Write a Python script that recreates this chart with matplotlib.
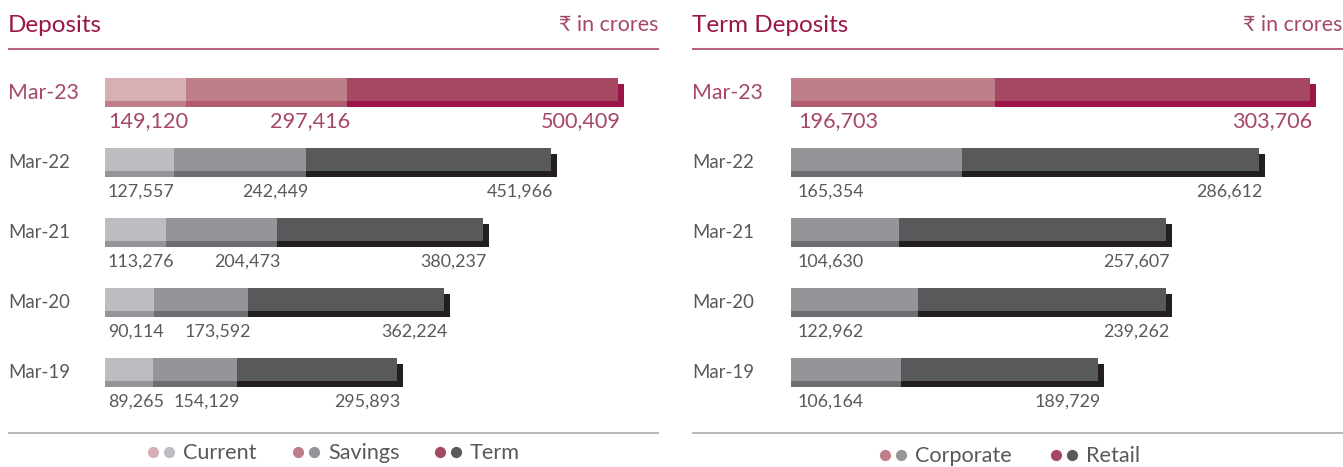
import matplotlib
matplotlib.use("Agg")
import matplotlib.pyplot as plt

# Figure geometry (pixels at dpi=100)
W, H = 1343, 467
ROW0_PX, ROW_STEP = 92.5, 70.0

# Deposits (₹ in crores)
years = ["Mar-23", "Mar-22", "Mar-21", "Mar-20", "Mar-19"]
current = [149120, 127557, 113276, 90114, 89265]
savings = [297416, 242449, 204473, 173592, 154129]
term = [500409, 451966, 380237, 362224, 295893]

# Term deposits split
corporate = [196703, 165354, 104630, 122962, 106164]
retail = [303706, 286612, 257607, 239262, 189729]

PINK = ["#d8afb4", "#bf7f8a", "#a54862"]
PINK_SHADE = ["#bf7f8a", "#b05a70", "#9b1548"]
GREY = ["#bcbdc0", "#939598", "#58595b"]
GREY_SHADE = ["#939598", "#6d6e71", "#231f20"]

MAROON = "#9b1548"
ROSE = "#a54862"
TEXT = "#58595b"
FONT = ["Lato", "DejaVu Sans"]

plt.rcParams["font.family"] = FONT

fig = plt.figure(figsize=(W / 100, H / 100), dpi=100)

# Overlay in pixel units for titles, rules and legends
deco = fig.add_axes([0, 0, 1, 1])
deco.set_xlim(0, W)
deco.set_ylim(H, 0)
deco.axis("off")


def bar_axes(x0_px, x1_px, units_per_px):
    ax = fig.add_axes([x0_px / W, 0, (x1_px - x0_px) / W, 1])
    ax.set_xlim(0, (x1_px - x0_px) * units_per_px)
    ax.set_ylim((H - ROW0_PX) / ROW_STEP, -ROW0_PX / ROW_STEP)
    ax.axis("off")
    return ax


def draw_panel(ax, series, color_idx, units_per_px, first_pad_px):
    main_h = 23 / ROW_STEP
    drop = 3 / ROW_STEP
    ext = 6 * units_per_px
    for i, year in enumerate(years):
        latest = i == 0
        base_cols = PINK if latest else GREY
        shade_cols = PINK_SHADE if latest else GREY_SHADE
        left = 0
        n = len(series)
        for k, vals in enumerate(series):
            v = vals[i]
            c = color_idx[k]
            width = v + (ext if k == n - 1 else 0)
            ax.barh(i + drop, width, height=main_h, left=left,
                    color=shade_cols[c], linewidth=0, zorder=1)
            ax.barh(i - drop, v, height=main_h, left=left,
                    color=base_cols[c], linewidth=0, zorder=2)
            left += v
        # value labels under each segment
        fs = 15.6 if latest else 12.9
        tc = ROSE if latest else TEXT
        left = 0
        for k, vals in enumerate(series):
            v = vals[i]
            if k == 0:
                x, ha = first_pad_px * units_per_px, "left"
            else:
                x, ha = left + v + 3 * units_per_px, "right"
            ax.text(x, i + 29 / ROW_STEP, f"{v:,}", ha=ha, va="center",
                    fontsize=fs, color=tc)
            left += v


# Left panel: Deposits
axl = bar_axes(105, 659, 1845)
draw_panel(axl, [current, savings, term], [0, 1, 2], 1845, 3)

# Right panel: Term Deposits
axr = bar_axes(791, 1343, 965)
draw_panel(axr, [corporate, retail], [1, 2], 965, 7)

# Row labels
for i, year in enumerate(years):
    y = ROW0_PX + i * ROW_STEP + 0.5
    latest = i == 0
    for x in (8, 692):
        deco.text(x, y, year, ha="left", va="center",
                  fontsize=15.3 if latest else 13.4,
                  color=ROSE if latest else TEXT)

# Headers and rules
for x0, x1, title in [(8, 659, "Deposits"), (692, 1343, "Term Deposits")]:
    deco.text(x0, 26, title, ha="left", va="center", fontsize=17.5, color=MAROON)
    deco.text(x1 - 1, 25, "₹ in crores", ha="right", va="center",
              fontsize=15.4, color=ROSE)
    deco.plot([x0, x1], [49, 49], color="#b9647f", lw=1.5, solid_capstyle="butt")
    deco.plot([x0, x1], [433, 433], color="#a7a9ac", lw=1.2, solid_capstyle="butt")

# Legends: a pink and a grey dot per category
legend_items = [
    (153, 452, "Current", 0),
    (298, 452, "Savings", 1),
    (440, 452, "Term", 2),
    (885, 455, "Corporate", 1),
    (1056, 455, "Retail", 2),
]
for x, y, label, c in legend_items:
    deco.scatter([x], [y], s=65, color=PINK[c], linewidths=0)
    deco.scatter([x + 16], [y], s=65, color=GREY[c], linewidths=0)
    deco.text(x + 30, y + 1, label, ha="left", va="center", fontsize=15.6, color=TEXT)

fig.savefig("out.png", dpi=100)
